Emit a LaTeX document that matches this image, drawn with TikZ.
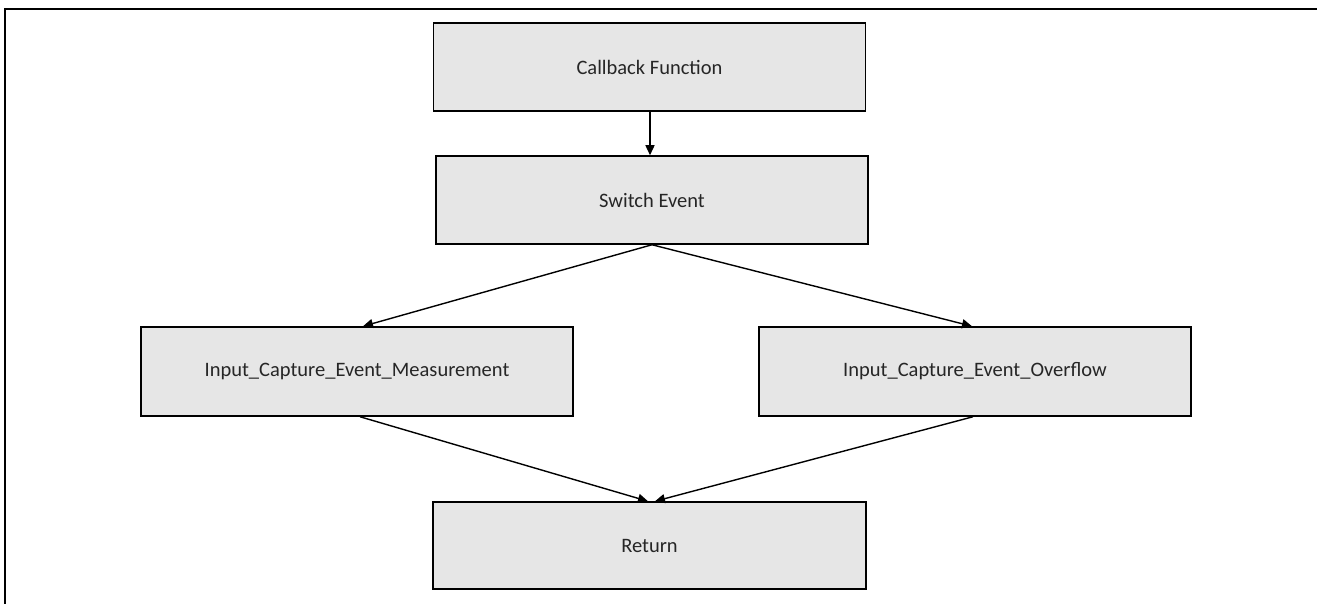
\documentclass[tikz,border=0pt]{standalone}
\usepackage{fontspec}
\setmainfont{Carlito}
\usetikzlibrary{arrows.meta}
\definecolor{boxfill}{HTML}{E6E6E6}
\definecolor{txt}{HTML}{262626}
\begin{document}
\begin{tikzpicture}[x=1pt,y=-1pt,
  flowbox/.style={draw=black,line width=1.5pt,fill=boxfill,minimum width=432pt,minimum height=88pt,
    inner sep=0pt,font=\fontsize{20.5}{24}\selectfont,text=txt},
  conn/.style={draw=black,line width=1.4pt,-{Triangle[length=10pt,width=9pt]}}]
\useasboundingbox (0,0) rectangle (1317,604);
\fill[white] (0,0) rectangle (1317,604);
\draw[line width=2.2pt] (1317,9) -- (5,9) -- (5,604);
\node[flowbox] (cb) at (649.5,67) {Callback Function};
\node[flowbox] (sw) at (652,200) {Switch Event};
\node[flowbox,minimum height=89pt] (meas) at (357,371.5) {Input\_Capture\_Event\_Measurement};
\node[flowbox,minimum height=89pt] (ovf) at (975,371.5) {Input\_Capture\_Event\_Overflow};
\node[flowbox,minimum width=433pt,minimum height=87pt] (ret) at (649.5,545.5) {Return};
\draw[conn] ([xshift=0.5pt]cb.south) -- ([xshift=0.5pt]cb.south |- sw.north);
\draw[conn] (sw.south) -- ([xshift=6pt]meas.north);
\draw[conn] (sw.south) -- ([xshift=-3pt]ovf.north);
\draw[conn] ([xshift=3pt]meas.south) -- ([xshift=-1.5pt]ret.north);
\draw[conn] ([xshift=-2pt]ovf.south) -- ([xshift=5.5pt]ret.north);
\end{tikzpicture}
\end{document}
